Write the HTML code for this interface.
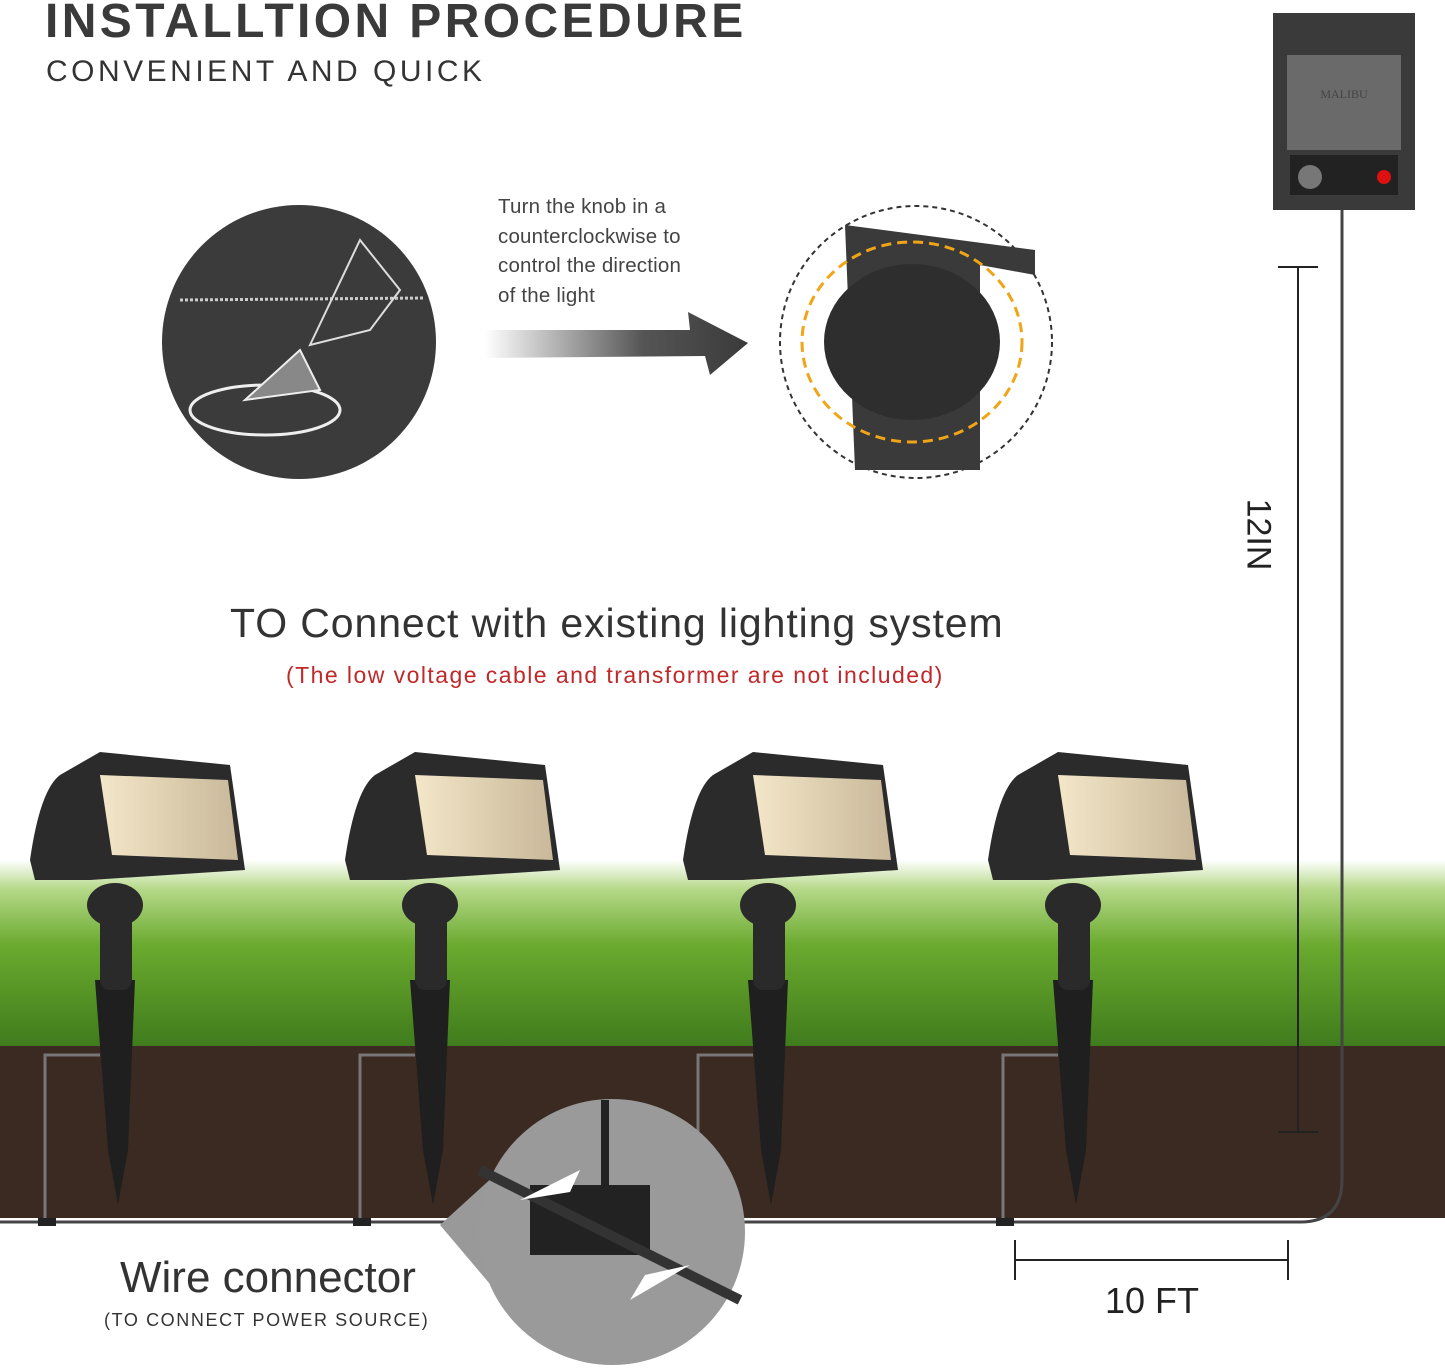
<!DOCTYPE html>
<html><head><meta charset="utf-8"><style>
html,body{margin:0;padding:0;background:#fff;}
body{width:1445px;height:1370px;overflow:hidden;position:relative;font-family:"Liberation Sans",sans-serif;}
.t{position:absolute;white-space:nowrap;}
</style></head><body>
<svg width="1445" height="1370" style="position:absolute;left:0;top:0">
<defs>
<linearGradient id="ar" x1="0" x2="1"><stop offset="0" stop-color="#fff"/><stop offset="0.6" stop-color="#555"/><stop offset="1" stop-color="#3a3a3a"/></linearGradient>
<linearGradient id="grass" x1="0" y1="0" x2="0" y2="1"><stop offset="0" stop-color="#fff"/><stop offset="0.15" stop-color="#b6d98a"/><stop offset="0.45" stop-color="#6aaa2e"/><stop offset="1" stop-color="#3e7a1c"/></linearGradient>
<linearGradient id="lens" x1="0" x2="1"><stop offset="0" stop-color="#f4e6c8"/><stop offset="1" stop-color="#c9b89a"/></linearGradient>
</defs>
<rect x="0" y="860" width="1445" height="190" fill="url(#grass)"/>
<rect x="0" y="1046" width="1445" height="172" fill="#3b2a22"/>
<circle cx="299" cy="342" r="137" fill="#3b3b3b"/>
<path d="M180 300 L425 298" stroke="#ccc" stroke-width="3" stroke-dasharray="3 2"/>
<ellipse cx="265" cy="410" rx="75" ry="25" fill="none" stroke="#eee" stroke-width="3"/>
<path d="M245 400 L300 350 L320 390 Z" fill="#888" stroke="#eee" stroke-width="2"/>
<path d="M310 345 L360 240 L400 290 L370 330 Z" fill="none" stroke="#ddd" stroke-width="2"/>
<polygon points="485,330 690,330 688,312 748,343 710,375 705,356 485,358" fill="url(#ar)"/>
<circle cx="916" cy="342" r="136" fill="#fff" stroke="#333" stroke-width="2" stroke-dasharray="5 4"/>
<path d="M845 225 L1035 250 L1035 275 L980 265 L980 470 L855 470 Z" fill="#3a3a3a"/>
<ellipse cx="912" cy="342" rx="88" ry="78" fill="#2e2e2e"/>
<ellipse cx="912" cy="342" rx="110" ry="100" fill="none" stroke="#f0a418" stroke-width="3" stroke-dasharray="10 6"/>
<rect x="1273" y="13" width="142" height="197" fill="#3a3a3a"/>
<rect x="1287" y="55" width="114" height="95" fill="#6a6a6a"/>
<rect x="1290" y="155" width="108" height="40" fill="#222"/>
<circle cx="1310" cy="177" r="12" fill="#777"/>
<circle cx="1384" cy="177" r="7" fill="#d11"/>
<text x="1344" y="98" font-size="12" fill="#444" text-anchor="middle" font-family="Liberation Serif">MALIBU</text>
<path d="M1342 210 L1342 1180 Q1342 1222 1300 1222 L0 1222" fill="none" stroke="#444" stroke-width="3"/>
<g stroke="#222" stroke-width="2"><line x1="1298" y1="267" x2="1298" y2="1132"/><line x1="1278" y1="267" x2="1318" y2="267"/><line x1="1278" y1="1132" x2="1318" y2="1132"/></g>
<g stroke="#222" stroke-width="2"><line x1="1015" y1="1260" x2="1288" y2="1260"/><line x1="1015" y1="1240" x2="1015" y2="1280"/><line x1="1288" y1="1240" x2="1288" y2="1280"/></g>
<g id="L">
<path d="M45 1220 L45 1055 L100 1055" fill="none" stroke="#777" stroke-width="3"/>
<rect x="38" y="1218" width="18" height="8" fill="#222"/>
<path d="M95 980 L135 980 L128 1150 L118 1205 L108 1150 Z" fill="#1f1f1f"/>
<rect x="100" y="900" width="32" height="90" rx="10" fill="#2a2a2a"/>
<ellipse cx="115" cy="905" rx="28" ry="22" fill="#2a2a2a"/>
<path d="M30 860 Q40 790 60 775 L100 752 L230 765 L245 870 L90 880 L35 880 Z" fill="#2b2b2b"/>
<path d="M100 775 L228 780 L238 860 L112 855 Z" fill="url(#lens)"/>
</g>
<use href="#L" transform="translate(315,0)"/>
<use href="#L" transform="translate(653,0)"/>
<use href="#L" transform="translate(958,0)"/>
<path d="M440 1225 L495 1175 L495 1290 Z" fill="#999"/>
<circle cx="612" cy="1232" r="133" fill="#9a9a9a"/>
<rect x="530" y="1185" width="120" height="70" fill="#222"/>
<line x1="480" y1="1170" x2="740" y2="1300" stroke="#333" stroke-width="10"/>
<path d="M605 1100 L605 1195" stroke="#222" stroke-width="8" fill="none"/>
<polygon points="520,1200 580,1170 570,1192" fill="#fff"/>
<polygon points="690,1265 630,1300 645,1275" fill="#fff"/>
</svg>
<div class="t" style="left:45px;top:-6px;font-size:48px;font-weight:bold;color:#3a3a3a;letter-spacing:3.4px">INSTALLTION PROCEDURE</div>
<div class="t" style="left:46px;top:55px;font-size:30px;color:#333;letter-spacing:3.5px">CONVENIENT AND QUICK</div>
<div class="t" style="left:498px;top:192px;font-size:20.5px;color:#444;line-height:29.5px;letter-spacing:0.2px">Turn the knob in a<br>counterclockwise to<br>control the direction<br>of the light</div>
<div class="t" style="left:230px;top:600px;font-size:41px;color:#333;letter-spacing:0.9px">TO Connect with existing lighting system</div>
<div class="t" style="left:286px;top:662px;font-size:23px;color:#c0282a;letter-spacing:1.45px">(The low voltage cable and transformer are not included)</div>
<div class="t" style="left:1222px;top:515px;font-size:34px;color:#222;transform:rotate(90deg);transform-origin:center">12IN</div>
<div class="t" style="left:120px;top:1253px;font-size:44px;color:#333">Wire connector</div>
<div class="t" style="left:104px;top:1310px;font-size:18px;color:#333;letter-spacing:1.6px">(TO CONNECT POWER SOURCE)</div>
<div class="t" style="left:1105px;top:1280px;font-size:36px;color:#222">10 FT</div>
</body></html>
